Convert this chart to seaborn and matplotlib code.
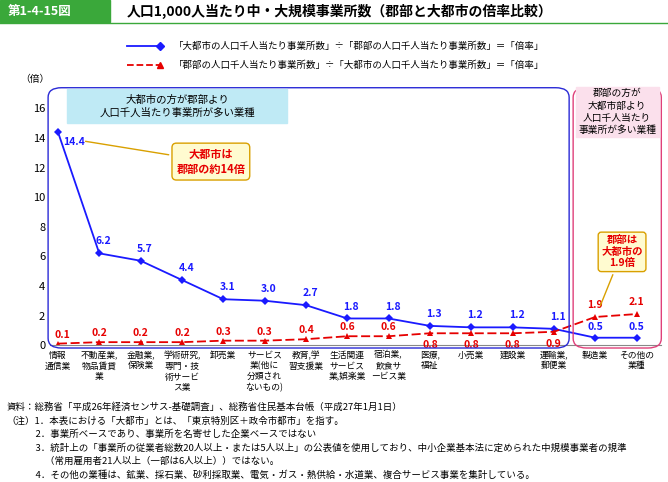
import matplotlib
matplotlib.use("Agg")
import matplotlib.pyplot as plt
import seaborn as sns
import pandas as pd
from matplotlib.patches import FancyBboxPatch, Rectangle

plt.rcParams["font.family"] = "Noto Sans CJK JP"

categories = ["情報\n通信業", "不動産業,\n物品賃貸\n業", "金融業,\n保険業", "学術研究,\n専門・技\n術サービ\nス業",
              "卸売業", "サービス\n業(他に\n分類され\nないもの)", "教育,学\n習支援業", "生活関連\nサービス\n業,娯楽業",
              "宿泊業,\n飲食サ\nービス業", "医療,\n福祉", "小売業", "建設業", "運輸業,\n郵便業", "製造業", "その他の\n業種"]
blue_vals = [14.4, 6.2, 5.7, 4.4, 3.1, 3.0, 2.7, 1.8, 1.8, 1.3, 1.2, 1.2, 1.1, 0.5, 0.5]
red_vals = [0.1, 0.2, 0.2, 0.2, 0.3, 0.3, 0.4, 0.6, 0.6, 0.8, 0.8, 0.8, 0.9, 1.9, 2.1]
blue_label = "「大都市の人口千人当たり事業所数」÷「郡部の人口千人当たり事業所数」＝「倍率」"
red_label = "「郡部の人口千人当たり事業所数」÷「大都市の人口千人当たり事業所数」＝「倍率」"

df = pd.DataFrame({"x": range(len(categories)), "blue": blue_vals, "red": red_vals})

fig = plt.figure(figsize=(6.68, 4.82), dpi=100)
ax = fig.add_axes([0.075, 0.284, 0.915, 0.522])
blue = "#1a1aff"; red = "#e60000"
sns.lineplot(data=df, x="x", y="blue", ax=ax, color=blue, marker="D", markersize=4.5, markeredgewidth=0, lw=1.3)
sns.lineplot(data=df, x="x", y="red", ax=ax, color=red, marker="^", markersize=5, markeredgewidth=0, lw=1.3, linestyle=(0, (5, 2)))
ax.set_xlim(-0.19, 14.6)
ax.set_ylim(0, 17.0)
ax.set_yticks(range(0, 17, 2))
ax.set_xticks(range(len(categories)))
ax.set_xticklabels(categories, fontsize=6.3, linespacing=1.25, va="top")
ax.tick_params(axis="x", length=0, pad=4)
ax.tick_params(axis="y", labelsize=8, length=0)
ax.set_xlabel(""); ax.set_ylabel("")
for s in ["top", "right", "left"]:
    ax.spines[s].set_visible(False)
ax.spines["bottom"].set_color("#888888")

for i, (b, r) in enumerate(zip(blue_vals, red_vals)):
    if i == 0:
        ax.text(0.38, b - 0.9, f"{b}", color=blue, fontsize=7.5, ha="center", fontweight="bold")
        ax.text(i + 0.1, r + 0.4, f"{r}", color=red, fontsize=7.5, ha="center", fontweight="bold")
    elif i < 13:
        ax.text(i + 0.1, b + 0.6, f"{b}", color=blue, fontsize=7.5, ha="center", fontweight="bold")
        if i >= 9:
            ax.text(i, r - 1.0, f"{r}", color=red, fontsize=7.5, ha="center", fontweight="bold")
        else:
            ax.text(i, r + 0.4, f"{r}", color=red, fontsize=7.5, ha="center", fontweight="bold")
    else:
        ax.text(i, b + 0.5, f"{b}", color=blue, fontsize=7.5, ha="center", fontweight="bold")
        ax.text(i, r + 0.6, f"{r}", color=red, fontsize=7.5, ha="center", fontweight="bold")

fig.text(0.03, 0.83, "（倍）", fontsize=7)

# title
fig.patches.append(Rectangle((0.0, 0.955), 0.165, 0.045, transform=fig.transFigure, color="#3aa83a"))
fig.text(0.012, 0.977, "第1-4-15図", fontsize=9, color="white", va="center", fontweight="bold")
fig.text(0.19, 0.977, "人口1,000人当たり中・大規模事業所数（郡部と大都市の倍率比較）", fontsize=10, va="center", fontweight="bold")
fig.lines.append(plt.Line2D([0, 1], [0.952, 0.952], transform=fig.transFigure, color="#3aa83a", lw=1))

# legend
lx = 0.19
fig.lines.append(plt.Line2D([lx, lx + 0.05], [0.905, 0.905], transform=fig.transFigure, color=blue, lw=1.3, marker="D", markersize=4, markevery=[1]))
fig.text(lx + 0.07, 0.905, blue_label, fontsize=6.8, va="center")
fig.lines.append(plt.Line2D([lx, lx + 0.05], [0.865, 0.865], transform=fig.transFigure, color=red, lw=1.3, ls="--", marker="^", markersize=5, markevery=[1]))
fig.text(lx + 0.07, 0.865, red_label, fontsize=6.8, va="center")

# group boxes
fig.patches.append(FancyBboxPatch((0.072, 0.278), 0.78, 0.54, boxstyle="round,pad=0,rounding_size=0.02", transform=fig.transFigure, fill=False, ec="#2a2ad6", lw=1))
fig.patches.append(FancyBboxPatch((0.858, 0.278), 0.132, 0.54, boxstyle="round,pad=0,rounding_size=0.02", transform=fig.transFigure, fill=False, ec="#e0407a", lw=1))
fig.patches.append(Rectangle((0.1, 0.745), 0.33, 0.07, transform=fig.transFigure, color="#bfeaf5"))
fig.text(0.265, 0.78, "大都市の方が郡部より\n人口千人当たり事業所が多い業種", fontsize=7.5, ha="center", va="center", linespacing=1.3)
fig.patches.append(Rectangle((0.862, 0.715), 0.124, 0.105, transform=fig.transFigure, color="#fbe0ec"))
fig.text(0.924, 0.768, "郡部の方が\n大都市部より\n人口千人当たり\n事業所が多い業種", fontsize=7, ha="center", va="center", linespacing=1.3)

# callouts
ax.annotate("大都市は\n郡部の約14倍", xy=(0.6, 13.8), xytext=(3.7, 12.4), fontsize=8, color=red, fontweight="bold",
            ha="center", va="center", bbox=dict(boxstyle="round,pad=0.4", fc="#fffbd0", ec="#d9a000"),
            arrowprops=dict(arrowstyle="-", color="#d9a000", lw=1))
ax.annotate("郡部は\n大都市の\n1.9倍", xy=(13.1, 2.5), xytext=(13.65, 6.3), fontsize=7.5, color=red, fontweight="bold",
            ha="center", va="center", bbox=dict(boxstyle="round,pad=0.3", fc="#fffbd0", ec="#d9a000"),
            arrowprops=dict(arrowstyle="-", color="#d9a000", lw=1))

notes = ("資料：総務省「平成26年経済センサス-基礎調査」、総務省住民基本台帳（平成27年1月1日）\n"
         "（注）1．本表における「大都市」とは、「東京特別区＋政令市都市」を指す。\n"
         "　　　2．事業所ベースであり、事業所を名寄せした企業ベースではない\n"
         "　　　3．統計上の「事業所の従業者総数20人以上・または5人以上」の公表値を使用しており、中小企業基本法に定められた中規模事業者の規準\n"
         "　　　　（常用雇用者21人以上（一部は6人以上））ではない。\n"
         "　　　4．その他の業種は、鉱業、採石業、砂利採取業、電気・ガス・熱供給・水道業、複合サービス事業を集計している。")
fig.text(0.01, 0.005, notes, fontsize=6.8, va="bottom", linespacing=1.55)

fig.savefig("out.png", dpi=100)
